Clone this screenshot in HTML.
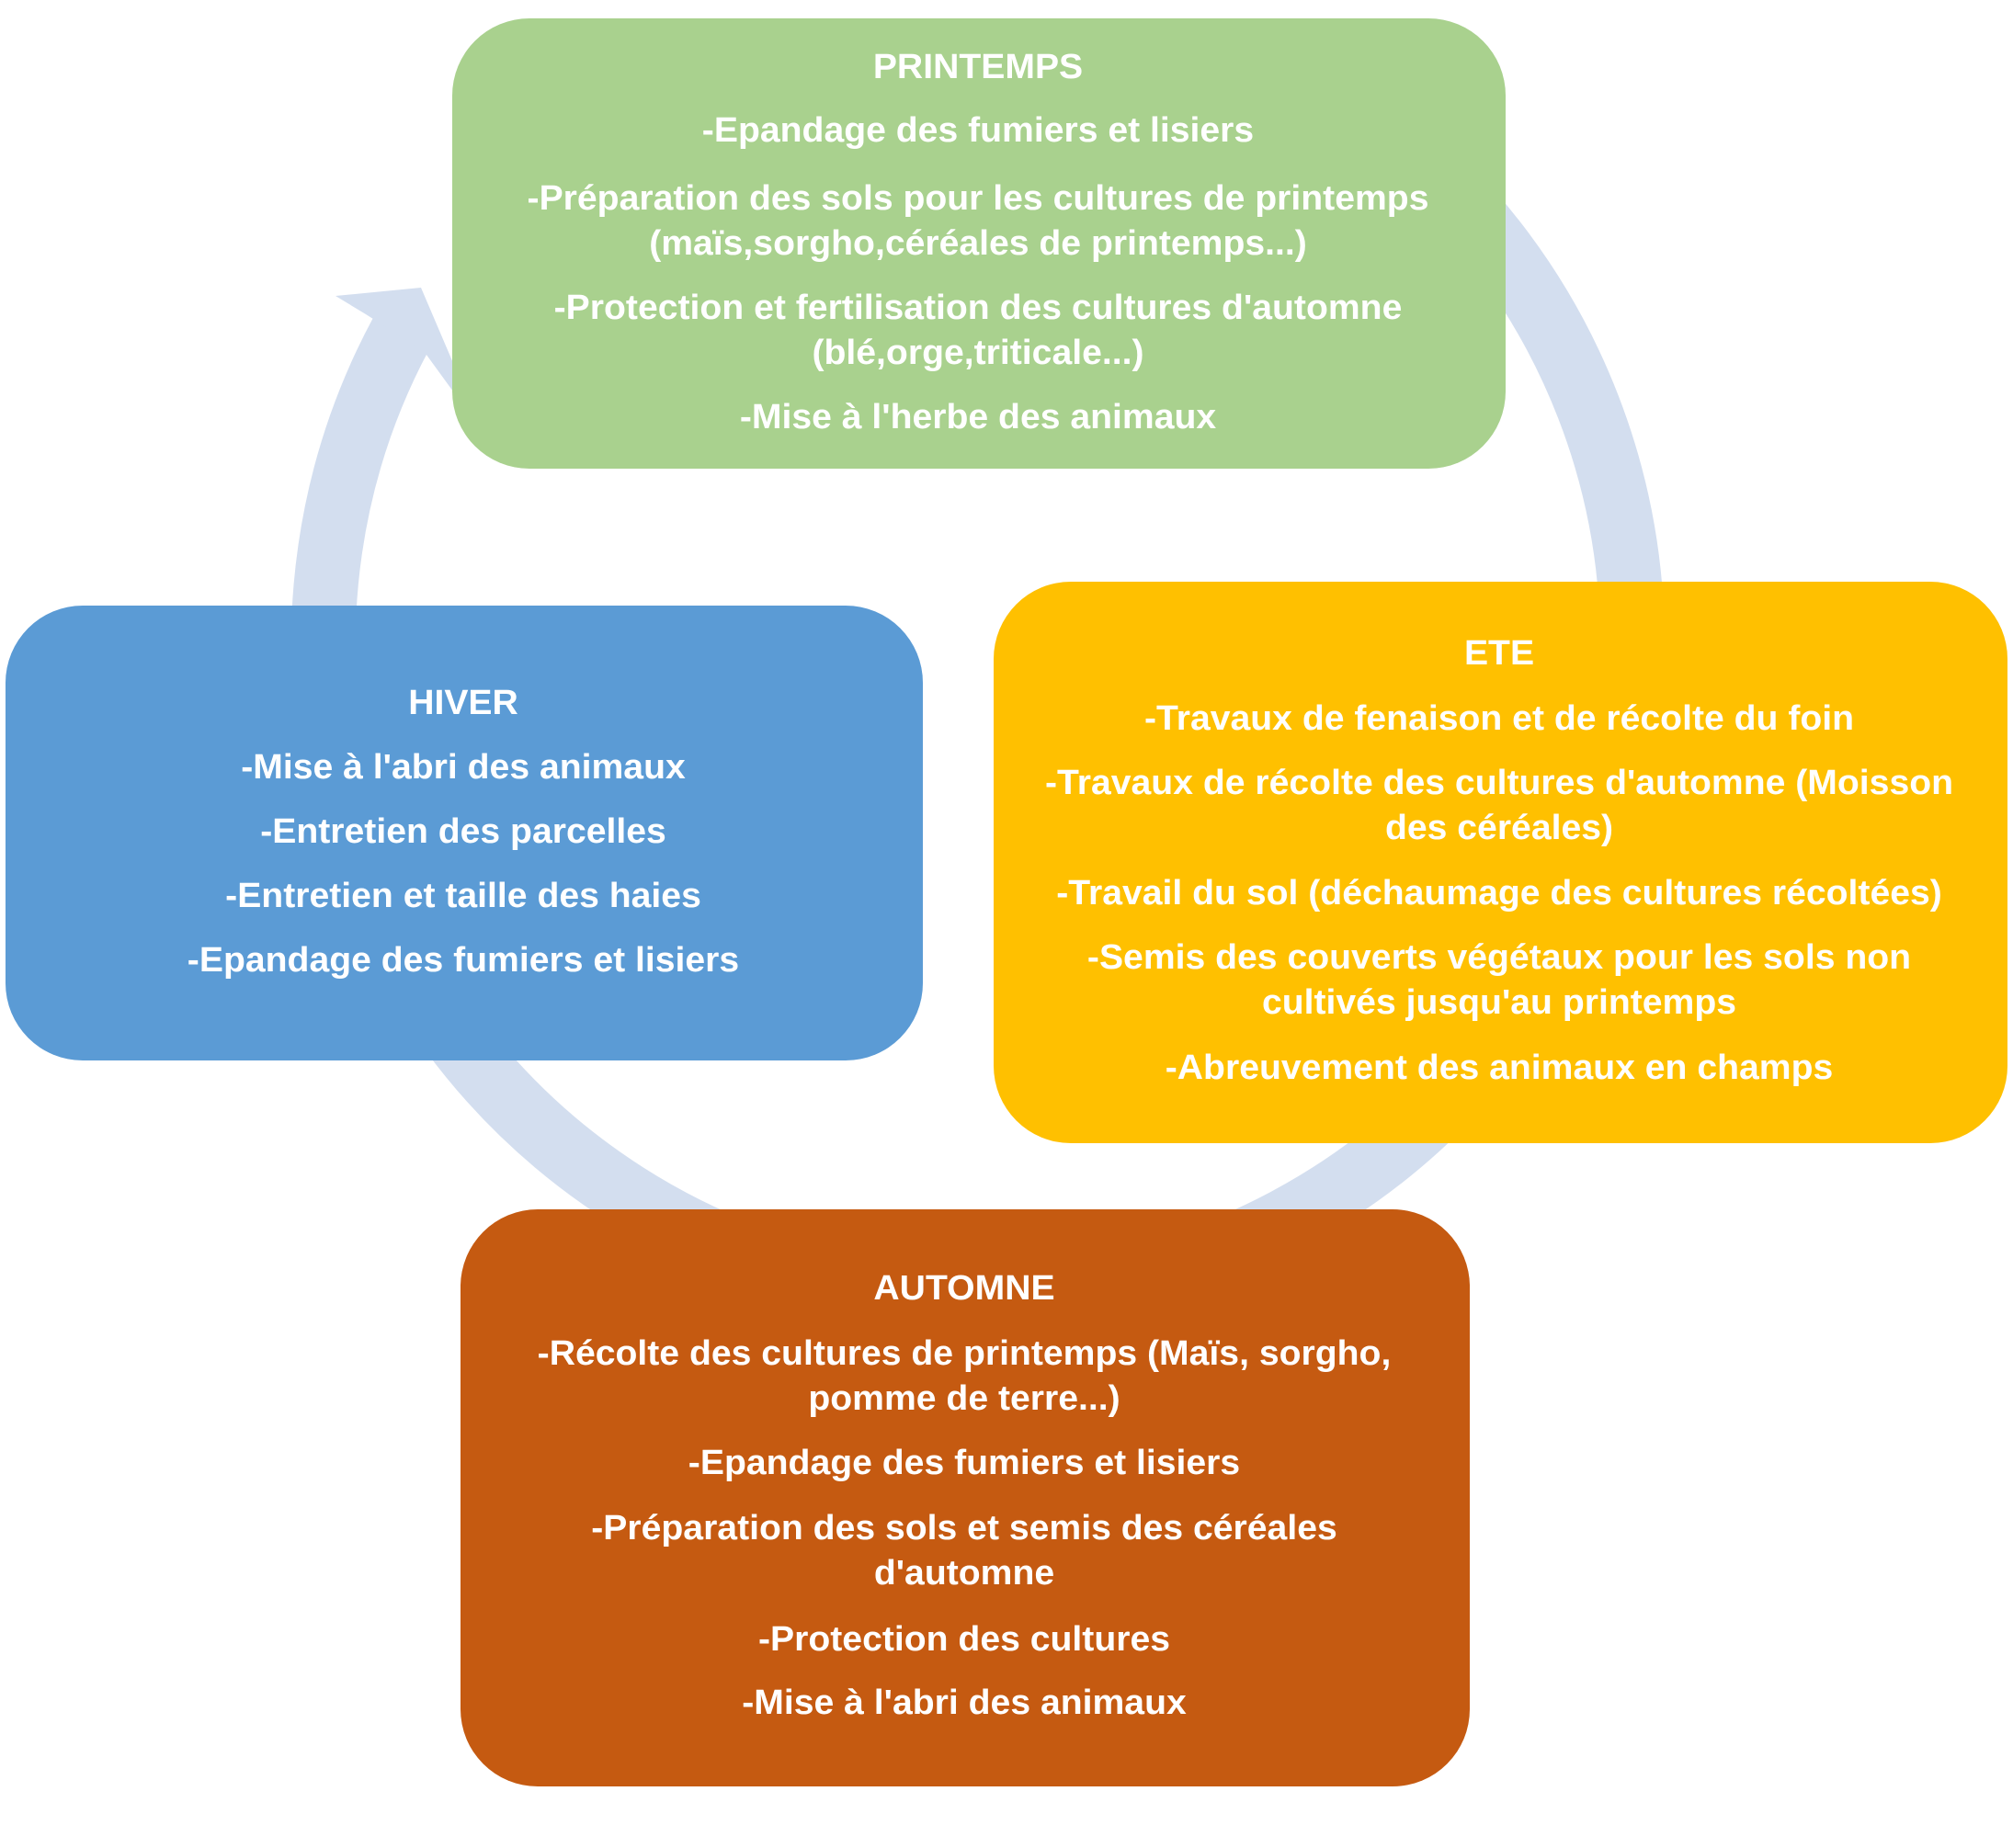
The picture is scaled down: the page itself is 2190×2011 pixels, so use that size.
<!DOCTYPE html>
<html><head><meta charset="utf-8"><style>
body{margin:0;width:2190px;height:2011px;background:#fff;position:relative;overflow:hidden;font-family:"Liberation Sans",sans-serif;}
.box{position:absolute;}
.t{position:absolute;color:#fff;font-weight:bold;font-size:38px;white-space:nowrap;transform:translate(-50%,-50%) scaleX(1.03);line-height:1;}
</style></head><body>
<svg width="2190" height="2011" style="position:absolute;left:0;top:0">
<path d="M 1599 230 A 712 712 0 1 1 437 362" fill="none" stroke="#d3deef" stroke-width="70"/>
<polygon points="365,322 458,313 525,470 461,382 398,342" fill="#d3deef"/>
</svg>
<div class="box" style="left:492px;top:20px;width:1146px;height:490px;background:#a9d18e;border-radius:84px"></div>
<div class="box" style="left:6px;top:659px;width:998px;height:495px;background:#5b9bd5;border-radius:84px"></div>
<div class="box" style="left:1081px;top:633px;width:1103px;height:611px;background:#ffc000;border-radius:84px"></div>
<div class="box" style="left:501px;top:1316px;width:1098px;height:628px;background:#c55a11;border-radius:84px"></div>

<div class="t" style="left:1064px;top:73px">PRINTEMPS</div>
<div class="t" style="left:1064px;top:142px">-Epandage des fumiers et lisiers</div>
<div class="t" style="left:1064px;top:216px">-Préparation des sols pour les cultures de printemps</div>
<div class="t" style="left:1064px;top:265px">(maïs,sorgho,céréales de printemps...)</div>
<div class="t" style="left:1064px;top:335px">-Protection et fertilisation des cultures d'automne</div>
<div class="t" style="left:1064px;top:384px">(blé,orge,triticale...)</div>
<div class="t" style="left:1064px;top:454px">-Mise à l'herbe des animaux</div>

<div class="t" style="left:504px;top:765px">HIVER</div>
<div class="t" style="left:504px;top:835px">-Mise à l'abri des animaux</div>
<div class="t" style="left:504px;top:905px">-Entretien des parcelles</div>
<div class="t" style="left:504px;top:975px">-Entretien et taille des haies</div>
<div class="t" style="left:504px;top:1045px">-Epandage des fumiers et lisiers</div>

<div class="t" style="left:1631px;top:711px">ETE</div>
<div class="t" style="left:1631px;top:782px">-Travaux de fenaison et de récolte du foin</div>
<div class="t" style="left:1631px;top:852px">-Travaux de récolte des cultures d'automne (Moisson</div>
<div class="t" style="left:1631px;top:901px">des céréales)</div>
<div class="t" style="left:1631px;top:972px">-Travail du sol (déchaumage des cultures récoltées)</div>
<div class="t" style="left:1631px;top:1042px">-Semis des couverts végétaux pour les sols non</div>
<div class="t" style="left:1631px;top:1091px">cultivés jusqu'au printemps</div>
<div class="t" style="left:1631px;top:1162px">-Abreuvement des animaux en champs</div>

<div class="t" style="left:1049px;top:1402px">AUTOMNE</div>
<div class="t" style="left:1049px;top:1473px">-Récolte des cultures de printemps (Maïs, sorgho,</div>
<div class="t" style="left:1049px;top:1522px">pomme de terre...)</div>
<div class="t" style="left:1049px;top:1592px">-Epandage des fumiers et lisiers</div>
<div class="t" style="left:1049px;top:1663px">-Préparation des sols et semis des céréales</div>
<div class="t" style="left:1049px;top:1712px">d'automne</div>
<div class="t" style="left:1049px;top:1784px">-Protection des cultures</div>
<div class="t" style="left:1049px;top:1853px">-Mise à l'abri des animaux</div>
</body></html>
